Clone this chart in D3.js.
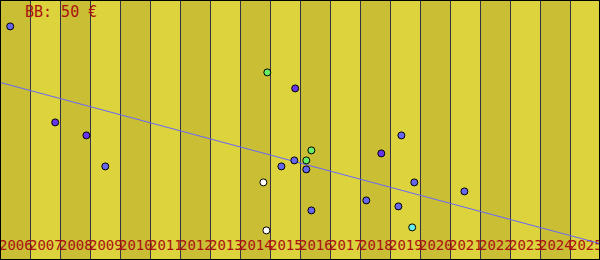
<!DOCTYPE html>
<html>
<head>
<meta charset="utf-8">
<script src="https://cdn.jsdelivr.net/npm/d3@7"></script>
<style>
	body { margin: 0; background: #fff; }
	svg { display: block; }
</style>
</head>
<body>
<div id="chart"></div>
<script>
var width = 600,
    height = 260;

var title = "BB: 50 €";

// year ticks along the bottom
var years = d3.range(2006, 2026);

// one entry per sale: fractional year, price, grade
var saleYears  = [2006.34, 2007.84, 2008.88, 2009.51, 2014.91, 2015.84, 2014.78, 2014.88, 2015.38, 2015.81, 2016.21,
                  2016.38, 2016.21, 2016.38, 2018.21, 2018.71, 2019.38, 2019.28, 2019.81, 2019.74, 2021.48];
var salePrices = [116.8, 68.8, 62.3, 46.8, 93.8, 85.8, 38.8, 14.8, 46.8, 49.8, 49.8,
                  54.8, 45.3, 24.8, 29.8, 53.3, 62.3, 26.8, 38.8, 16.3, 34.3];
var saleGrades = ["b", "v", "v", "b", "g", "v", "w", "w", "b", "b", "g",
                  "g", "b", "b", "b", "v", "b", "b", "b", "c", "b"];

var grades      = ["w", "c", "g", "b", "v"];
var gradeColors = ["#ffffff", "#66eeee", "#66ee66", "#6666ee", "#6633ee"];

// trend line ends
var trendYears  = [2006, 2026];
var trendPrices = [88.8, 8.2];

var x = d3.scaleLinear()
	.domain([2006, 2026])
	.range([0, width]);

var y = d3.scaleLinear()
	.domain([0, 130])
	.range([height, 0]);

var color = d3.scaleOrdinal()
	.domain(grades)
	.range(gradeColors);

var svg = d3.select("#chart").append("svg")
	.attr("width", width)
	.attr("height", height);

// alternating year bands
svg.selectAll("rect.band")
	.data(years)
	.enter().append("rect")
	.attr("class", "band")
	.attr("x", function(d) { return x(d) })
	.attr("y", 0)
	.attr("width", x(2007) - x(2006))
	.attr("height", height)
	.attr("fill", function(d, i) { return i % 2 == 0 ? "#cabe34" : "#ddd33c" });

svg.selectAll("line.grid")
	.data(years.slice(1))
	.enter().append("line")
	.attr("class", "grid")
	.attr("x1", function(d) { return x(d) + 0.5 })
	.attr("x2", function(d) { return x(d) + 0.5 })
	.attr("y1", 0)
	.attr("y2", height)
	.attr("stroke", "#333344")
	.attr("stroke-width", 1);

svg.selectAll("text.year")
	.data(years)
	.enter().append("text")
	.attr("class", "year")
	.attr("x", function(d) { return x(d) - 1 })
	.attr("y", 250)
	.attr("font-family", "DejaVu Sans Mono")
	.attr("font-size", "14px")
	.attr("fill", "#aa1111")
	.text(function(d) { return d });

var trend = d3.line()
	.x(function(d) { return x(d[0]) })
	.y(function(d) { return y(d[1]) });

svg.append("path")
	.datum(d3.zip(trendYears, trendPrices))
	.attr("d", trend)
	.attr("fill", "none")
	.attr("stroke", "#6666ff")
	.attr("stroke-width", 1);

svg.selectAll("circle")
	.data(d3.range(saleYears.length))
	.enter().append("circle")
	.attr("cx", function(i) { return x(saleYears[i]) })
	.attr("cy", function(i) { return y(salePrices[i]) })
	.attr("r", 3.5)
	.attr("fill", function(i) { return color(saleGrades[i]) })
	.attr("stroke", "#000")
	.attr("stroke-width", 1);

svg.append("text")
	.attr("x", 25)
	.attr("y", 17)
	.attr("font-family", "DejaVu Sans Mono")
	.attr("font-size", "15px")
	.attr("fill", "#aa1111")
	.text(title);

// frame
svg.append("rect")
	.attr("x", 0.5)
	.attr("y", 0.5)
	.attr("width", width - 1)
	.attr("height", height - 1)
	.attr("fill", "none")
	.attr("stroke", "#000")
	.attr("stroke-width", 1);
</script>
</body>
</html>
